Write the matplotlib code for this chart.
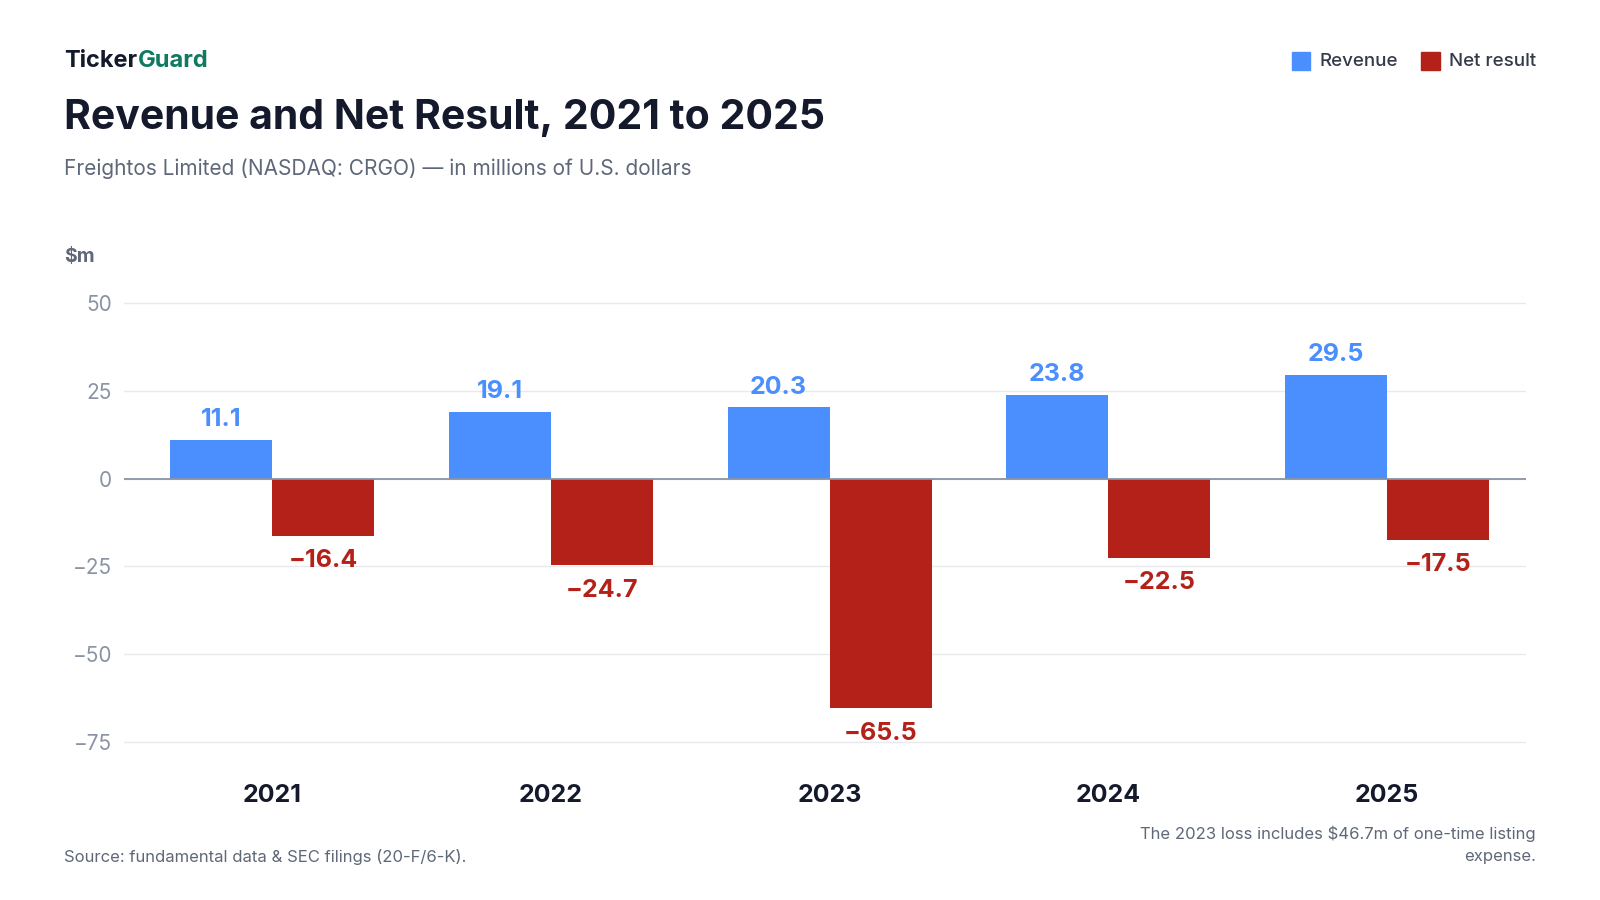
import numpy as np
import matplotlib.pyplot as plt

plt.rcParams['font.family'] = ['Inter', 'DejaVu Sans']

years = ['2021', '2022', '2023', '2024', '2025']
revenue = [11.1, 19.1, 20.3, 23.8, 29.5]
net_result = [-16.4, -24.7, -65.5, -22.5, -17.5]
yticks = [50, 25, 0, -25, -50, -75]

blue = '#4a8ffd'
red = '#b32118'
dark = '#141a2b'
grey = '#8a93a3'

W, H = 1568, 882  # reference coords as read

fig = plt.figure(figsize=(16, 9), dpi=100)
ax = fig.add_axes([122 / W, 1 - 761.4 / H, (1495 - 122) / W, (761.4 - 279.8) / H])

x = np.arange(len(years))
w = 0.366
ax.bar(x - w / 2, revenue, w, color=blue, zorder=3)
ax.bar(x + w / 2, net_result, w, color=red, zorder=3)

for xi, v in zip(x, revenue):
    ax.text(xi - w / 2, v + 2.5, f'{v:.1f}', ha='center', va='bottom',
            color=blue, fontsize=18, fontweight='bold')
for xi, v in zip(x, net_result):
    ax.text(xi + w / 2, v - 3.8, f'\u2212{abs(v):.1f}', ha='center', va='top',
            color=red, fontsize=18, fontweight='bold')

ax.set_xlim(-0.531, 4.498)
ax.set_ylim(-85, 55)
ax.set_yticks(yticks)
ax.set_yticklabels([f'\u2212{abs(t)}' if t < 0 else str(t) for t in yticks],
                   color=grey, fontsize=15)
ax.set_xticks(x)
ax.set_xticklabels(years, fontsize=18, fontweight='bold', color=dark)
ax.tick_params(length=0)
ax.tick_params(axis='y', pad=9)
ax.tick_params(axis='x', pad=5)
ax.grid(axis='y', color='#e8eaee', lw=1, zorder=0)
ax.axhline(0, color='#8a93a3', lw=1.3, zorder=4)
for s in ax.spines.values():
    s.set_visible(False)

fig.text(63 / W, 1 - 60 / H, 'Ticker', fontsize=17, fontweight='bold', color=dark, va='center')
fig.text(135 / W, 1 - 60 / H, 'Guard', fontsize=17, fontweight='bold', color='#0f7a5f', va='center')
fig.text(63 / W, 1 - 116 / H, 'Revenue and Net Result, 2021 to 2025', fontsize=29.5,
         fontweight='bold', color=dark, va='center')
fig.text(63 / W, 1 - 165 / H, 'Freightos Limited (NASDAQ: CRGO) \u2014 in millions of U.S. dollars',
         fontsize=15, color='#5f6878', va='center')
fig.text(63 / W, 1 - 252 / H, '$m', fontsize=14, color='#5f6878', va='center', fontweight='bold')
fig.text(63 / W, 1 - 840 / H, 'Source: fundamental data & SEC filings (20-F/6-K).',
         fontsize=12, color='#5f6878', va='center')
fig.text(1505 / W, 1 - 828 / H, 'The 2023 loss includes $46.7m of one-time listing\nexpense.',
         fontsize=12, color='#5f6878', va='center', ha='right', linespacing=1.6)

# legend
for lx, lab, c in [(1266, 'Revenue', blue), (1393, 'Net result', red)]:
    fig.patches.append(plt.Rectangle((lx / W, 1 - 69 / H), 18 / W, 18 / H,
                                     transform=fig.transFigure, color=c))
    fig.text((lx + 27) / W, 1 - 60 / H, lab, fontsize=13.5, color='#333a48', va='center',
             fontweight='medium')

fig.savefig('out.png', dpi=100)
